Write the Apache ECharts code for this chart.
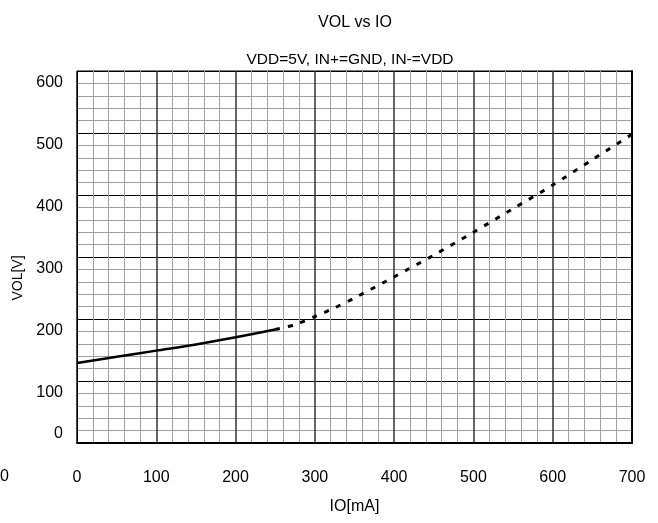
<!DOCTYPE html>
<html>
<head>
<meta charset="utf-8">
<title>VOL vs IO</title>
<script src="https://cdn.jsdelivr.net/npm/echarts@6/dist/echarts.min.js"></script>
<style>
  html, body { margin: 0; padding: 0; background: #fff; }
  #chart { width: 658px; height: 523px; }
</style>
</head>
<body>
<div id="chart"></div>
<script>
// measured curve, IO in mA, VOL in V
var solidIO = [0, 50, 100, 150, 200, 250];
var solidVOL = [129, 139, 149, 159, 170.5, 183];
var dashIO = [250, 275, 300, 325, 350, 400, 450, 500, 550, 600, 650, 700];
var dashVOL = [183, 191, 204, 218, 234, 268, 303, 340, 378, 416, 457, 498];

var xTicks = [0, 100, 200, 300, 400, 500, 600, 700];
var yTicks = [0, 100, 200, 300, 400, 500, 600];

var font = 'Liberation Sans, Arial, sans-serif';

function pairs(xs, ys) {
  var out = [];
  for (var i = 0; i < xs.length; i++) {
    out.push([xs[i], ys[i]]);
  }
  return out;
}

var dom = document.getElementById('chart');
var chart = echarts.init(dom, null, { renderer: 'canvas' });

var option = {
  backgroundColor: '#fff',
  animation: false,
  title: [
    {
      text: 'VOL vs IO',
      left: 350,
      top: 10,
      textAlign: 'center',
      textStyle: { fontFamily: font, fontSize: 16, fontWeight: 'normal', color: '#000' }
    },
    {
      text: 'VDD=5V, IN+=GND, IN-=VDD',
      left: 345,
      top: 47,
      textAlign: 'center',
      textStyle: { fontFamily: font, fontSize: 15.5, fontWeight: 'normal', color: '#000' }
    }
  ],
  grid: {
    left: 77,
    right: 26,
    top: 71,
    bottom: 80,
    show: true,
    borderColor: '#000',
    borderWidth: 1
  },
  xAxis: {
    type: 'value',
    min: xTicks[0],
    max: xTicks[xTicks.length - 1],
    interval: 100,
    name: 'IO[mA]',
    nameLocation: 'middle',
    nameGap: 56,
    nameTextStyle: { fontFamily: font, fontSize: 16, color: '#000' },
    axisLine: { show: true, lineStyle: { color: '#000', width: 2 } },
    axisTick: { show: false },
    axisLabel: { margin: 27, fontFamily: font, fontSize: 16, color: '#000' },
    splitLine: { show: true, lineStyle: { color: '#333', width: 1.5 } },
    minorTick: { show: false, splitNumber: 5 },
    minorSplitLine: { show: true, lineStyle: { color: '#a0a0a0', width: 1 } }
  },
  yAxis: [
    {
      type: 'value',
      min: yTicks[0],
      max: yTicks[yTicks.length - 1],
      interval: 100,
      axisLine: { show: true, lineStyle: { color: '#000', width: 1 } },
      axisTick: { show: false },
      axisLabel: {
        margin: 14,
        color: '#000',
        formatter: function(v) {
          return v === 0 ? '{z|0}' : '{a|' + v + '}';
        },
        rich: {
          a: { fontFamily: font, fontSize: 16, color: '#000', padding: [23, 0, 0, 0] },
          z: { fontFamily: font, fontSize: 16, color: '#000', padding: [0, 0, 19, 0] }
        }
      },
      splitLine: { show: true, lineStyle: { color: '#000', width: 1 } },
      minorTick: { show: false, splitNumber: 5 },
      minorSplitLine: { show: true, lineStyle: { color: '#a0a0a0', width: 1 } }
    },
    {
      // right border only
      type: 'value',
      position: 'right',
      min: yTicks[0],
      max: yTicks[yTicks.length - 1],
      interval: 100,
      axisLine: { show: true, lineStyle: { color: '#000', width: 2 } },
      axisTick: { show: false },
      axisLabel: { show: false },
      splitLine: { show: false }
    }
  ],
  graphic: [
    {
      type: 'text',
      left: 0,
      top: 469,
      style: { text: '0', font: '16px ' + font, fill: '#000' }
    },
    {
      type: 'text',
      x: 18,
      y: 278,
      rotation: Math.PI / 2,
      style: {
        text: 'VOL[V]',
        font: '14px ' + font,
        fill: '#000',
        align: 'center',
        verticalAlign: 'middle'
      }
    }
  ],
  series: [
    {
      type: 'line',
      data: pairs(solidIO, solidVOL),
      smooth: 0.3,
      showSymbol: false,
      lineStyle: { color: '#000', width: 2.5 }
    },
    {
      type: 'line',
      data: pairs(dashIO, dashVOL),
      smooth: 0.3,
      showSymbol: false,
      lineStyle: { color: '#000', width: 3, type: [5, 8] }
    }
  ]
};

chart.setOption(option);
</script>
</body>
</html>
